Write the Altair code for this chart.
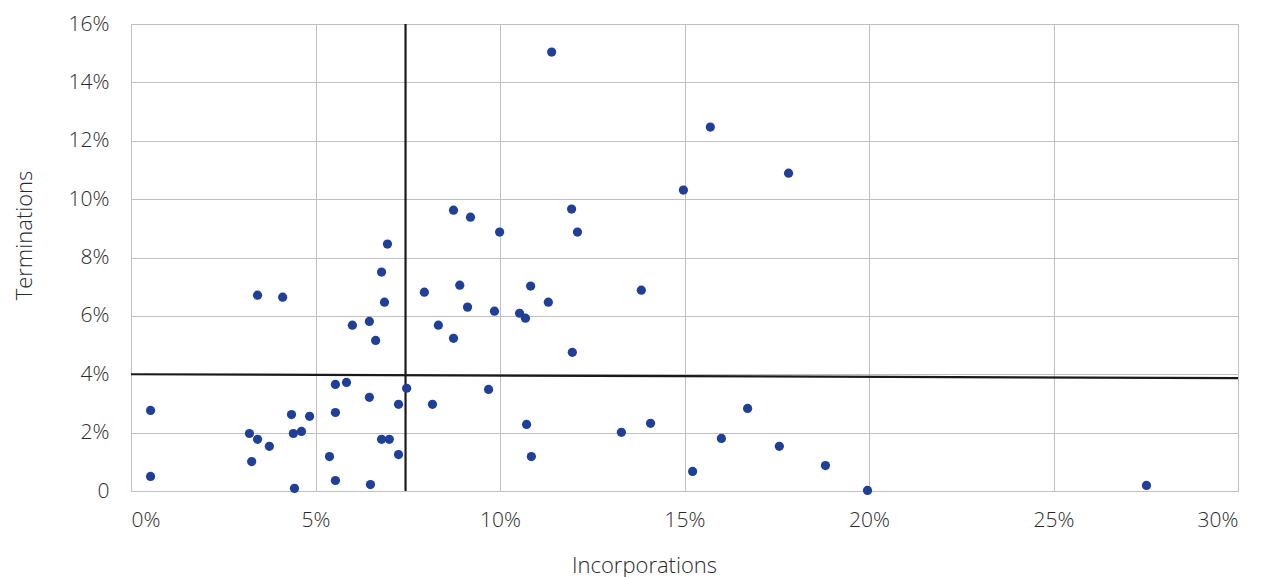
import altair as alt
import pandas as pd

incorporations = [0.53, 0.53, 3.21, 3.27, 3.43, 3.43, 3.75, 4.11, 4.35, 4.40, 4.62, 4.43, 4.84,
                  5.38, 5.54, 5.54, 5.54, 5.84, 6.00, 6.46, 6.46, 6.49, 6.63, 6.79, 6.79, 6.87,
                  6.95, 7.00, 7.25, 7.25, 7.47, 7.95, 8.17, 8.33, 8.74, 8.74, 8.91, 9.12, 9.20,
                  9.69, 9.85, 9.99, 10.53, 10.69, 10.72, 10.83, 10.85, 11.31, 11.40, 11.94, 11.96,
                  12.10, 13.29, 13.83, 14.08, 14.97, 15.22, 15.70, 16.00, 16.71, 17.57, 17.82,
                  18.82, 19.96, 27.52]
terminations = [2.76, 0.50, 1.97, 1.01, 1.77, 6.71, 1.53, 6.64, 2.62, 1.97, 2.04, 0.09, 2.56,
                1.18, 3.65, 2.69, 0.36, 3.72, 5.68, 5.81, 3.21, 0.22, 5.16, 7.50, 1.77, 6.47,
                8.46, 1.77, 2.97, 1.25, 3.52, 6.81, 2.97, 5.68, 9.62, 5.23, 7.05, 6.30, 9.38,
                3.48, 6.16, 8.87, 6.09, 5.92, 2.28, 7.02, 1.18, 6.47, 15.04, 9.66, 4.75,
                8.87, 2.01, 6.88, 2.32, 10.31, 0.67, 12.47, 1.80, 2.83, 1.53, 10.89,
                0.87, 0.02, 0.19]

x_ticks = [0, 5, 10, 15, 20, 25, 30]
y_ticks = [0, 2, 4, 6, 8, 10, 12, 14, 16]

hline_x = [0, 30]
hline_y = [4.0, 3.87]
vline_x = [7.44]
vline_y = [0]
vline_y2 = [16]

FONT = "Open Sans"
TXT = "#2a2a2a"

pts = pd.DataFrame({"Incorporations": incorporations, "Terminations": terminations})
hdf = pd.DataFrame({"x": hline_x, "y": hline_y})
vdf = pd.DataFrame({"x": vline_x, "y": vline_y, "y2": vline_y2})

xscale = alt.Scale(domain=[0, 30], nice=False, zero=False)
yscale = alt.Scale(domain=[0, 16], nice=False, zero=False)

xaxis = alt.Axis(values=x_ticks, labelExpr="datum.value + '%'", title="Incorporations",
                 grid=True, gridColor="#c0c0c0", gridWidth=1, domain=False, ticks=False,
                 labelPadding=18, labelFontSize=21, labelColor=TXT, labelFont=FONT,
                 labelFontWeight=300,
                 titleFont=FONT, titleFontSize=22, titleColor=TXT, titleFontWeight=300,
                 titleX=513, titleY=74, titleBaseline="middle", titleAlign="center")
yaxis = alt.Axis(values=y_ticks, labelExpr="datum.value == 0 ? '0' : datum.value + '%'",
                 title="Terminations", grid=True, gridColor="#c0c0c0", gridWidth=1,
                 domain=False, ticks=False, labelPadding=22, labelFontSize=21,
                 labelColor=TXT, labelFont=FONT, labelFontWeight=300,
                 titleFont=FONT, titleFontSize=22, titleColor=TXT, titleFontWeight=300,
                 titleX=-107, titleY=211, titleBaseline="middle", titleAlign="center",
                 titleAngle=270)

points = alt.Chart(pts).mark_circle(size=85, color="#1f3f98", opacity=1).encode(
    x=alt.X("Incorporations:Q", scale=xscale, axis=xaxis),
    y=alt.Y("Terminations:Q", scale=yscale, axis=yaxis),
)

hline = alt.Chart(hdf).mark_line(color="#1a1a1a", strokeWidth=2.2).encode(
    x=alt.X("x:Q", scale=xscale),
    y=alt.Y("y:Q", scale=yscale),
)

vline = alt.Chart(vdf).mark_rule(color="#1a1a1a", strokeWidth=2.2).encode(
    x=alt.X("x:Q", scale=xscale),
    y=alt.Y("y:Q", scale=yscale),
    y2="y2:Q",
)

chart = alt.layer(hline, vline, points).properties(
    width=1107, height=467,
    autosize=alt.AutoSizeParams(type="none"),
    padding={"left": 123, "top": 16, "right": 20, "bottom": 90},
).configure_view(stroke="#c0c0c0", strokeWidth=1.5).configure(background="white")

chart.save("out.html", embed_options={"renderer": "svg", "actions": False})
